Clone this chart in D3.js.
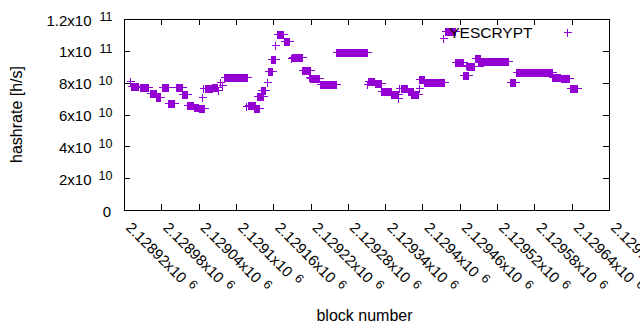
<!DOCTYPE html>
<html><head><meta charset="utf-8">
<script src="https://cdn.jsdelivr.net/npm/d3@7"></script>
<style>
html,body{margin:0;padding:0;background:#fff;}
svg{display:block;font-family:"Liberation Sans",Arial,sans-serif;}
</style></head>
<body>
<svg id="chart" width="640" height="330"></svg>
<script>
// ---- data (block ranges with a constant hashrate, in h/s) ----
const runStart = [2128930,2128931,2128946,2128962,2128972,2128981,2128991,2129004,2129014,2129022,2129032,2129040,2129046,2129047,2129050,2129062,2129071,2129074,2129078,2129081,2129116,2129119,2129129,2129134,2129140,2129150,2129151,2129156,2129163,2129166,2129177,2129189,2129190,2129207,2129218,2129219,2129235,2129261,2129262,2129311,2129312,2129323,2129334,2129350,2129361,2129363,2129365,2129376,2129382,2129394,2129395,2129403,2129433,2129436,2129453,2129466,2129470,2129471,2129484,2129489,2129498,2129541,2129550,2129609,2129622,2129637];
const runEnd   = [2128930,2128943,2128959,2128971,2128978,2128990,2129000,2129013,2129021,2129031,2129039,2129049,2129046,2129047,2129061,2129070,2129071,2129074,2129078,2129118,2129116,2129131,2129137,2129144,2129147,2129150,2129158,2129163,2129163,2129176,2129185,2129189,2129206,2129219,2129218,2129234,2129261,2129261,2129311,2129311,2129322,2129333,2129349,2129361,2129361,2129363,2129375,2129385,2129393,2129394,2129402,2129435,2129433,2129452,2129465,2129473,2129470,2129483,2129492,2129497,2129538,2129549,2129608,2129621,2129636,2129649];
const runHashrate = [8.10e10,7.76e10,7.70e10,7.32e10,7.13e10,7.73e10,6.75e10,7.73e10,7.27e10,6.62e10,6.50e10,6.43e10,7.12e10,7.65e10,7.66e10,7.73e10,7.54e10,8.04e10,7.85e10,8.37e10,6.52e10,6.57e10,6.41e10,7.16e10,7.57e10,8.02e10,8.73e10,9.46e10,10.37e10,11.04e10,10.62e10,9.53e10,9.61e10,8.80e10,8.37e10,8.29e10,7.90e10,9.95e10,9.90e10,7.90e10,8.09e10,7.95e10,7.45e10,7.27e10,7.02e10,7.65e10,7.66e10,7.45e10,7.26e10,7.65e10,8.21e10,8.04e10,10.79e10,11.23e10,9.28e10,8.46e10,9.11e10,9.07e10,9.53e10,9.32e10,9.34e10,8.07e10,8.67e10,8.37e10,8.27e10,7.68e10];

const seriesName = "YESCRYPT";
const xTickValues = [2128920,2128980,2129040,2129100,2129160,2129220,2129280,2129340,2129400,2129460,2129520,2129580,2129640,2129700];
const xTickMantissa = ["2.12892","2.12898","2.12904","2.1291","2.12916","2.12922","2.12928","2.12934","2.1294","2.12946","2.12952","2.12958","2.12964","2.1297"];
const xTickExponent = "6";
const yTickValues = [0,2e10,4e10,6e10,8e10,1e11,1.2e11];
const yTickMantissa = ["0","2","4","6","8","1","1.2"];
const yTickExponent = ["","10","10","10","10","11","11"];
const xTitle = "block number";
const yTitle = "hashrate [h/s]";

// ---- layout ----
const L = 124, R = 609, T = 19, B = 210;
const color = "#9400d3";
const svg = d3.select("#chart");

const x = d3.scaleLinear().domain([2128920, 2129700]).range([L, R]);
const y = d3.scaleLinear().domain([0, 1.2e11]).range([B, T]);

// expand each run into one point per block
const points = [];
runStart.forEach((s, i) => {
  for (let b = s; b <= runEnd[i]; b++) points.push({block: b, value: runHashrate[i]});
});

// ticks (inward, mirrored)
const tickG = svg.append("g").attr("stroke", "#000").attr("stroke-width", 1).attr("shape-rendering", "crispEdges");
yTickValues.forEach(v => {
  const py = Math.round(y(v)) + 0.5;
  tickG.append("line").attr("x1", L).attr("x2", L + 6).attr("y1", py).attr("y2", py);
  tickG.append("line").attr("x1", R - 6).attr("x2", R).attr("y1", py).attr("y2", py);
});
xTickValues.forEach(v => {
  const px = Math.round(x(v)) + 0.5;
  tickG.append("line").attr("x1", px).attr("x2", px).attr("y1", B).attr("y2", B - 6);
  tickG.append("line").attr("x1", px).attr("x2", px).attr("y1", T).attr("y2", T + 6);
});

// border
svg.append("rect").attr("x", L + 0.5).attr("y", T + 0.5).attr("width", R - L).attr("height", B - T)
  .attr("fill", "none").attr("stroke", "#000").attr("stroke-width", 1).attr("shape-rendering", "crispEdges");

// y tick labels
yTickValues.forEach((v, i) => {
  const by = y(v) + 6.5;
  if (yTickExponent[i] === "") {
    svg.append("text").attr("x", 111).attr("y", by).attr("text-anchor", "end")
      .attr("font-size", 15).text(yTickMantissa[i]);
  } else {
    svg.append("text").attr("x", 91.5).attr("y", by).attr("text-anchor", "end")
      .attr("font-size", 15).text(yTickMantissa[i] + "x10");
    svg.append("text").attr("x", 112.5).attr("y", by - 4.5).attr("text-anchor", "end")
      .attr("font-size", 12.5).text(yTickExponent[i]);
  }
});

// x tick labels (rotated)
xTickValues.forEach((v, i) => {
  const g = svg.append("g").attr("transform", `translate(${x(v) + 1},228.5) rotate(45)`);
  const main = g.append("text").attr("x", 0).attr("y", 0).attr("font-size", 15).text(xTickMantissa[i] + "x10");
  const len = main.node().getComputedTextLength();
  g.append("text").attr("x", len + 6).attr("y", -4.5).attr("font-size", 12.5).text(xTickExponent);
});

// axis titles
svg.append("text").attr("x", 364.5).attr("y", 321).attr("text-anchor", "middle")
  .attr("font-size", 16).text(xTitle);
svg.append("text").attr("transform", `translate(22,${(T + B) / 2}) rotate(-90)`).attr("text-anchor", "middle")
  .attr("font-size", 16).text(yTitle);

// points (plus markers)
const plus = (cx, cy) => {
  const px = Math.round(cx) + 0.5, py = Math.round(cy) + 0.5;
  return `M${px - 4},${py}H${px + 4}M${px},${py - 3.5}V${py + 4}`;
};
svg.append("g").attr("shape-rendering", "crispEdges")
  .selectAll("path").data(points).join("path")
  .attr("d", d => plus(x(d.block), y(d.value)))
  .attr("stroke", color).attr("stroke-width", 1).attr("fill", "none");

// legend
svg.append("text").attr("x", 532.5).attr("y", 37.5).attr("text-anchor", "end").attr("font-size", 15.5).text(seriesName);
svg.append("path").attr("d", plus(567, 32)).attr("stroke", color).attr("stroke-width", 1).attr("shape-rendering", "crispEdges");
</script>
</body></html>
